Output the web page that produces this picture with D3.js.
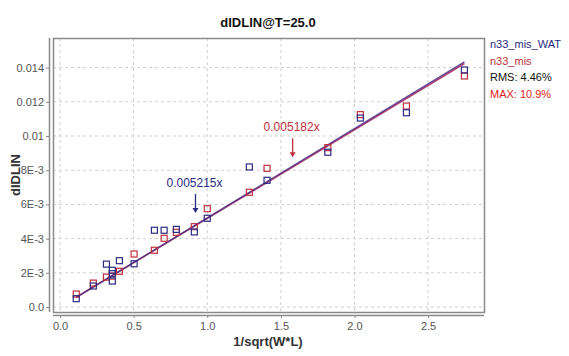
<!DOCTYPE html>
<html><head><meta charset="utf-8">
<script src="https://cdn.jsdelivr.net/npm/d3@7"></script>
<style>body{margin:0;background:#fff;}svg{display:block;font-family:"Liberation Sans",Arial,sans-serif;}</style>
</head><body><svg id="c" width="569" height="356"></svg>
<script>
const title = "dIDLIN@T=25.0";
const xLabel = "1/sqrt(W*L)";
const yLabel = "dIDLIN";
const xTicks = [0, 0.5, 1.0, 1.5, 2.0, 2.5];
const xTickLabels = ["0.0", "0.5", "1.0", "1.5", "2.0", "2.5"];
const yTicks = [0, 0.002, 0.004, 0.006, 0.008, 0.01, 0.012, 0.014];
const yTickLabels = ["0.0", "2E-3", "4E-3", "6E-3", "8E-3", "0.01", "0.012", "0.014"];
const seriesNames = ["n33_mis_WAT", "n33_mis"];
const statLabels = ["RMS: 4.46%", "MAX: 10.9%"];
const blueX = [0.11, 0.226, 0.315, 0.355, 0.355, 0.355, 0.403, 0.503, 0.641, 0.707, 0.79, 0.912, 1.0, 1.286, 1.406, 1.819, 2.04, 2.353, 2.747];
const blueY = [0.00049, 0.00123, 0.00251, 0.00215, 0.00195, 0.00152, 0.00271, 0.00253, 0.00449, 0.00449, 0.00454, 0.00439, 0.00519, 0.00819, 0.00741, 0.00905, 0.01105, 0.01136, 0.01386];
const redX = [0.11, 0.226, 0.315, 0.355, 0.403, 0.503, 0.641, 0.707, 0.79, 0.912, 1.0, 1.286, 1.406, 1.819, 2.04, 2.353, 2.747];
const redY = [0.00076, 0.0014, 0.00175, 0.00181, 0.00209, 0.0031, 0.00332, 0.00402, 0.00437, 0.0047, 0.00575, 0.00671, 0.00811, 0.00932, 0.01125, 0.01175, 0.01351];
const blueLineX = [0.11, 2.747];
const blueLineY = [0.00057, 0.01433];
const redLineX = [0.11, 2.747];
const redLineY = [0.00057, 0.01424];
const annotations = [
  {text: "0.005182x", x: 1.58, y: 0.0087, series: 1},
  {text: "0.005215x", x: 0.92, y: 0.00544, series: 0}
];

const BLUE = "#2b2b83", RED = "#c0303c";
const svg = d3.select("#c");
const L = 53, R = 484, T = 38, B = 312;
const x = d3.scaleLinear().domain([-0.048, 2.88]).range([L, R]);
const y = d3.scaleLinear().domain([-0.00029, 0.01573]).range([B, T]);

// grid
const g = svg.append("g");
g.selectAll(".gx").data(xTicks).enter().append("line")
  .attr("x1", d => x(d)).attr("x2", d => x(d)).attr("y1", T).attr("y2", B)
  .attr("stroke", "#cfcfcf").attr("stroke-dasharray", "3,3").attr("stroke-width", 1);
g.selectAll(".gy").data(yTicks).enter().append("line")
  .attr("y1", d => y(d)).attr("y2", d => y(d)).attr("x1", L).attr("x2", R)
  .attr("stroke", "#cfcfcf").attr("stroke-dasharray", "3,3").attr("stroke-width", 1);

// frame
svg.append("rect").attr("x", L + 0.5).attr("y", T + 0.5).attr("width", R - L).attr("height", B - T)
  .attr("fill", "none").attr("stroke", "#8a8a8a").attr("stroke-width", 1.5);

// axes
const xAxis = d3.axisBottom(x).tickValues(xTicks).tickFormat((d, i) => xTickLabels[i]).tickSize(3).tickPadding(4);
const ax = svg.append("g").attr("transform", `translate(0,${B + 3})`).call(xAxis);
ax.select(".domain").attr("d", `M${L},0.5H${R}`).attr("stroke", "#8a8a8a").attr("stroke-width", 1.5);
const yAxis = d3.axisLeft(y).tickValues(yTicks).tickFormat((d, i) => yTickLabels[i]).tickSize(3).tickPadding(2);
const ay = svg.append("g").attr("transform", `translate(${L - 4},0)`).call(yAxis);
ay.select(".domain").attr("d", `M0.5,${T}V${B}`).attr("stroke", "#8a8a8a").attr("stroke-width", 1.5);
[ax, ay].forEach(a => {
  a.selectAll(".tick line").attr("stroke", "#8a8a8a");
  a.selectAll(".tick text").attr("fill", "#555").attr("font-size", 11).attr("font-family", "Liberation Sans, Arial, sans-serif");
});

// lines
const line = d3.line().x(d => x(d[0])).y(d => y(d[1]));
svg.append("path").datum(redLineX.map((v, i) => [v, redLineY[i]]))
  .attr("d", line).attr("fill", "none").attr("stroke", "#b04070").attr("stroke-width", 1.6);
svg.append("path").datum(blueLineX.map((v, i) => [v, blueLineY[i]]))
  .attr("d", line).attr("fill", "none").attr("stroke", "#4a2f85").attr("stroke-width", 1.4).attr("opacity", 0.85);

// points
const s = 6;
function pts(xs, ys, col) {
  svg.append("g").selectAll("rect").data(xs.map((v, i) => [v, ys[i]])).enter().append("rect")
    .attr("x", d => x(d[0]) - s / 2).attr("y", d => y(d[1]) - s / 2)
    .attr("width", s).attr("height", s).attr("fill", "none").attr("stroke", col).attr("stroke-width", 1.2);
}
pts(redX, redY, RED);
pts(blueX, blueY, BLUE);

// annotations
annotations.forEach(a => {
  const col = a.series === 0 ? BLUE : RED;
  const px = x(a.x), py = y(a.y);
  svg.append("line").attr("x1", px).attr("x2", px).attr("y1", py - 20).attr("y2", py - 4)
    .attr("stroke", col).attr("stroke-width", 1.3);
  svg.append("path").attr("d", `M${px - 3},${py - 6}L${px + 3},${py - 6}L${px},${py - 1}Z`).attr("fill", col);
  svg.append("text").attr("x", px - 1).attr("y", py - 27).attr("text-anchor", "middle")
    .attr("fill", col).attr("font-size", 12).text(a.text);
});

// title & labels
svg.append("text").attr("x", 268).attr("y", 27).attr("text-anchor", "middle")
  .attr("font-size", 13).attr("font-weight", "bold").attr("fill", "#111").text(title);
svg.append("text").attr("x", 268).attr("y", 346).attr("text-anchor", "middle")
  .attr("font-size", 13).attr("font-weight", "bold").attr("fill", "#333").text(xLabel);
svg.append("text").attr("transform", "translate(20,175) rotate(-90)").attr("text-anchor", "middle")
  .attr("font-size", 13).attr("font-weight", "bold").attr("fill", "#333").text(yLabel);

// legend
const legItems = [[seriesNames[0], BLUE], [seriesNames[1], RED], [statLabels[0], "#111"], [statLabels[1], "#e02020"]];
legItems.forEach((d, i) => {
  svg.append("text").attr("x", 490).attr("y", 48 + i * 16.5).attr("font-size", 11)
    .attr("fill", d[1]).text(d[0]);
});
</script></body></html>
